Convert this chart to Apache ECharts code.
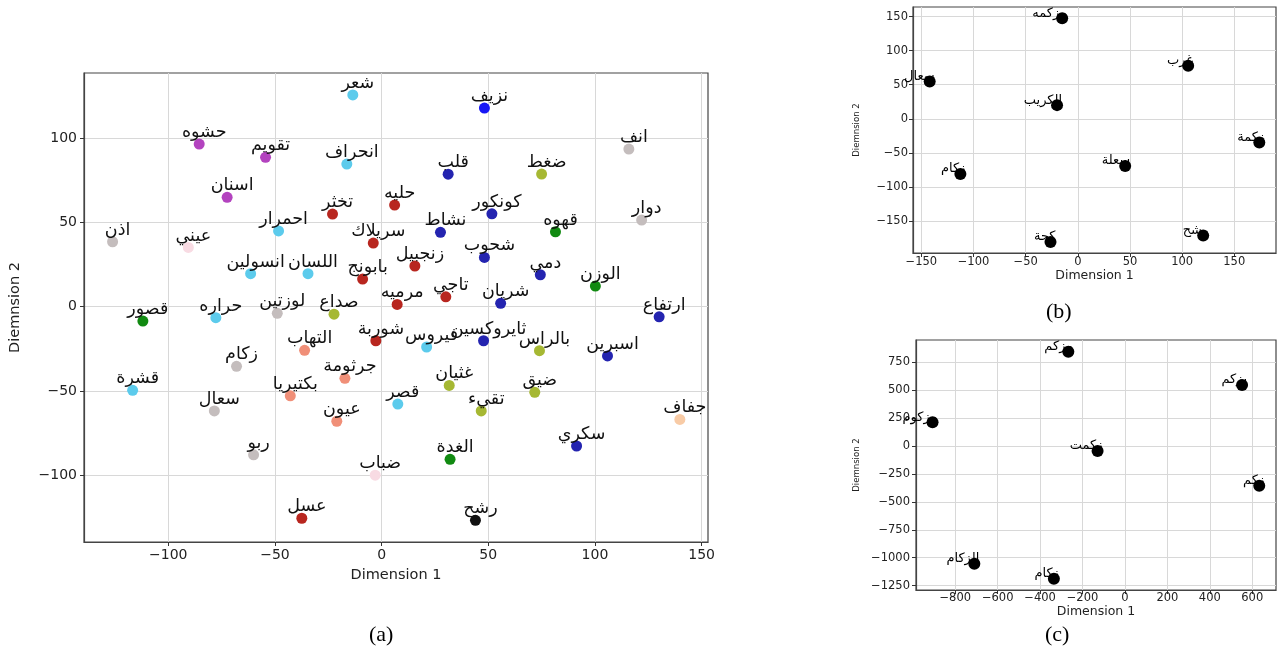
<!DOCTYPE html>
<html>
<head>
<meta charset="utf-8">
<script src="https://cdn.jsdelivr.net/npm/echarts@6/dist/echarts.min.js"></script>
<style>
  html, body { margin: 0; padding: 0; background: #fff; }
  #chart { width: 1281px; height: 650px; }
</style>
</head>
<body>
<div id="chart"></div>
<script>
// (a) words, t-SNE coordinates, cluster index
const wordsA = ['شعر', 'نزيف', 'حشوه', 'تقويم', 'انحراف', 'انف', 'قلب', 'ضغط', 'اسنان', 'تخثر',
  'حليه', 'كونكور', 'نشاط', 'قهوه', 'دوار', 'احمرار', 'اذن', 'عيني', 'سريلاك', 'شحوب',
  'زنجبيل', 'انسولين', 'اللسان', 'بابونج', 'دمي', 'الوزن', 'مرميه', 'تاجي', 'شريان', 'صداع',
  'لوزتين', 'حراره', 'قصور', 'ارتفاع', 'شوربة', 'ثايروكسين', 'فيروس', 'بالراس', 'اسبرين', 'التهاب',
  'زكام', 'جرثومة', 'غثيان', 'قشرة', 'ضيق', 'بكتيريا', 'سعال', 'تقيء', 'قصر', 'عيون',
  'جفاف', 'سكري', 'ربو', 'الغدة', 'ضباب', 'عسل', 'رشح'];
const xA = [-13.5, 48.2, -85.5, -54.4, -16.3, 115.9, 31.2, 75, -72.4, -23,
  6.1, 51.7, 27.6, 81.5, 121.9, -48.3, -126.1, -90.6, -3.9, 48.2,
  15.6, -61.4, -34.5, -8.9, 74.4, 100.2, 7.3, 30.1, 55.8, -22.3,
  -48.9, -77.7, -111.9, 130.1, -2.7, 47.8, 21.1, 74, 105.9, -36.1,
  -68, -17.2, 31.7, -116.7, 71.8, -42.8, -78.4, 46.7, 7.6, -21,
  139.8, 91.4, -60, 32.1, -3, -37.4, 44];
const yA = [125.8, 118, 96.6, 88.7, 84.7, 93.6, 78.7, 78.8, 65, 55,
  60.4, 55.2, 44.2, 44.5, 51.5, 45, 38.6, 35.2, 37.8, 29.3,
  24.2, 19.6, 19.6, 16.4, 19, 12.3, 1.4, 5.9, 2, -4.4,
  -3.9, -6.5, -8.5, -6, -20.2, -20.2, -23.9, -26.1, -29.2, -25.9,
  -35.4, -42.5, -46.7, -49.6, -50.8, -52.9, -61.9, -61.9, -57.8, -68,
  -66.9, -82.7, -87.9, -90.6, -100, -125.6, -126.8];
const groupA = [0, 1, 3, 3, 0, 7, 2, 5, 3, 4,
  4, 2, 2, 6, 7, 0, 7, 8, 4, 2,
  4, 0, 0, 4, 2, 6, 4, 4, 2, 5,
  7, 0, 6, 2, 4, 2, 0, 5, 2, 9,
  7, 9, 5, 0, 5, 9, 7, 5, 0, 9,
  10, 2, 7, 6, 8, 4, 11];

// (b)
const wordsB = ['مزكمه', 'غرب', 'سعال', 'الكريب', 'زكمة', 'سعلة', 'زكام', 'كحة', 'رشح'];
const xB = [-15, 105.8, -142, -19.9, 174, 45.4, -112.6, -26.2, 120.2];
const yB = [147.6, 77.7, 54.7, 20, -34.7, -69.3, -81, -180.7, -171.5];

// (c)
const wordsC = ['مزكم', 'يزكم', 'مزكوم', 'زكمت', 'زكم', 'الزكام', 'زكام'];
const xC = [-267, 552, -907, -129, 633, -710, -335];
const yC = [844, 546, 212, -45, -355, -1054, -1188];

// tick values
const ticksAX = [-100, -50, 0, 50, 100, 150];
const ticksAY = [-100, -50, 0, 50, 100];
const ticksBX = [-150, -100, -50, 0, 50, 100, 150];
const ticksBY = [-150, -100, -50, 0, 50, 100, 150];
const ticksCX = [-800, -600, -400, -200, 0, 200, 400, 600];
const ticksCY = [-1250, -1000, -750, -500, -250, 0, 250, 500, 750];

const palette = ['#5ccbec', '#1717f5', '#2424b0', '#b343bf', '#b8261f', '#a6b833',
  '#118a11', '#c4bdbd', '#f8dbe3', '#f08f78', '#f8cba6', '#111111'];

const font = 'DejaVu Sans';
const minus = v => (v < 0 ? '\u2212' + Math.abs(v) : String(v));

function axis(gridIndex, ticks, min, max, name, opts) {
  return {
    type: 'value',
    gridIndex: gridIndex,
    min: min,
    max: max,
    name: name,
    nameLocation: 'middle',
    nameGap: opts.nameGap,
    nameTextStyle: {
      color: '#222',
      fontFamily: opts.nameFont || font,
      fontSize: opts.nameSize
    },
    axisLine: { show: true, onZero: false, lineStyle: { color: '#444', width: 1.2 } },
    axisTick: {
      show: true, inside: false, length: 4, customValues: ticks,
      lineStyle: { color: '#333', width: 1 }
    },
    axisLabel: {
      customValues: ticks,
      formatter: minus,
      color: '#222',
      fontFamily: font,
      fontSize: opts.tickSize,
      margin: opts.margin
    },
    splitLine: { show: true, lineStyle: { color: '#d8d8d8', width: 1 } }
  };
}

function smallSeries(idx, xs, ys, words) {
  return {
    type: 'scatter',
    xAxisIndex: idx,
    yAxisIndex: idx,
    symbolSize: 12,
    data: xs.map((x, i) => [x, ys[i], words[i]]),
    itemStyle: { color: '#000', opacity: 1 },
    label: {
      show: true,
      position: 'inside',
      align: 'right',
      offset: [5, -5],
      formatter: p => p.data[2],
      color: '#000',
      textBorderWidth: 0,
      fontFamily: font,
      fontSize: 13
    }
  };
}

const chart = echarts.init(document.getElementById('chart'));

const option = {
  animation: false,
  backgroundColor: '#fff',
  grid: [
    { left: 84, top: 73, width: 624, height: 469, show: true, borderColor: '#444', borderWidth: 1.2 },
    { left: 913, top: 7, width: 363, height: 246, show: true, borderColor: '#444', borderWidth: 1.2 },
    { left: 916, top: 340, width: 360, height: 250, show: true, borderColor: '#444', borderWidth: 1.2 }
  ],
  xAxis: [
    axis(0, ticksAX, -139.5, 153, 'Dimension 1', { nameGap: 26, nameSize: 14.5, tickSize: 14, margin: 6 }),
    axis(1, ticksBX, -158, 190, 'Dimension 1', { nameGap: 15, nameSize: 12.5, tickSize: 11.5, margin: 3 }),
    axis(2, ticksCX, -985, 712, 'Dimension 1', { nameGap: 10, nameSize: 12.5, tickSize: 11.5, margin: 2 })
  ],
  yAxis: [
    axis(0, ticksAY, -139.7, 138.8, 'Diemnsion 2', { nameGap: 61, nameSize: 14.5, tickSize: 14, margin: 7 }),
    axis(1, ticksBY, -197, 164, 'Diemnsion 2', { nameGap: 51, nameSize: 9.5, nameFont: 'DejaVu Sans Condensed', tickSize: 11.5, margin: 5 }),
    axis(2, ticksCY, -1289, 949, 'Diemnsion 2', { nameGap: 54, nameSize: 9.5, nameFont: 'DejaVu Sans Condensed', tickSize: 11.5, margin: 6 })
  ],
  series: [
    {
      type: 'scatter',
      xAxisIndex: 0,
      yAxisIndex: 0,
      symbolSize: 11,
      data: xA.map((x, i) => [x, yA[i], wordsA[i]]),
      itemStyle: { color: p => palette[groupA[p.dataIndex]], opacity: 1 },
      label: {
        show: true,
        position: 'top',
        distance: 0,
        offset: [5, 3],
        formatter: p => p.data[2],
        color: '#111',
        fontFamily: font,
        fontSize: 17.5
      }
    },
    smallSeries(1, xB, yB, wordsB),
    smallSeries(2, xC, yC, wordsC)
  ],
  graphic: [
    { type: 'text', left: 369, top: 624, style: { text: '(a)', font: '22px "Liberation Serif"', fill: '#000' } },
    { type: 'text', left: 1046, top: 301, style: { text: '(b)', font: '22px "Liberation Serif"', fill: '#000' } },
    { type: 'text', left: 1045, top: 624, style: { text: '(c)', font: '22px "Liberation Serif"', fill: '#000' } }
  ]
};

chart.setOption(option);
</script>
</body>
</html>
